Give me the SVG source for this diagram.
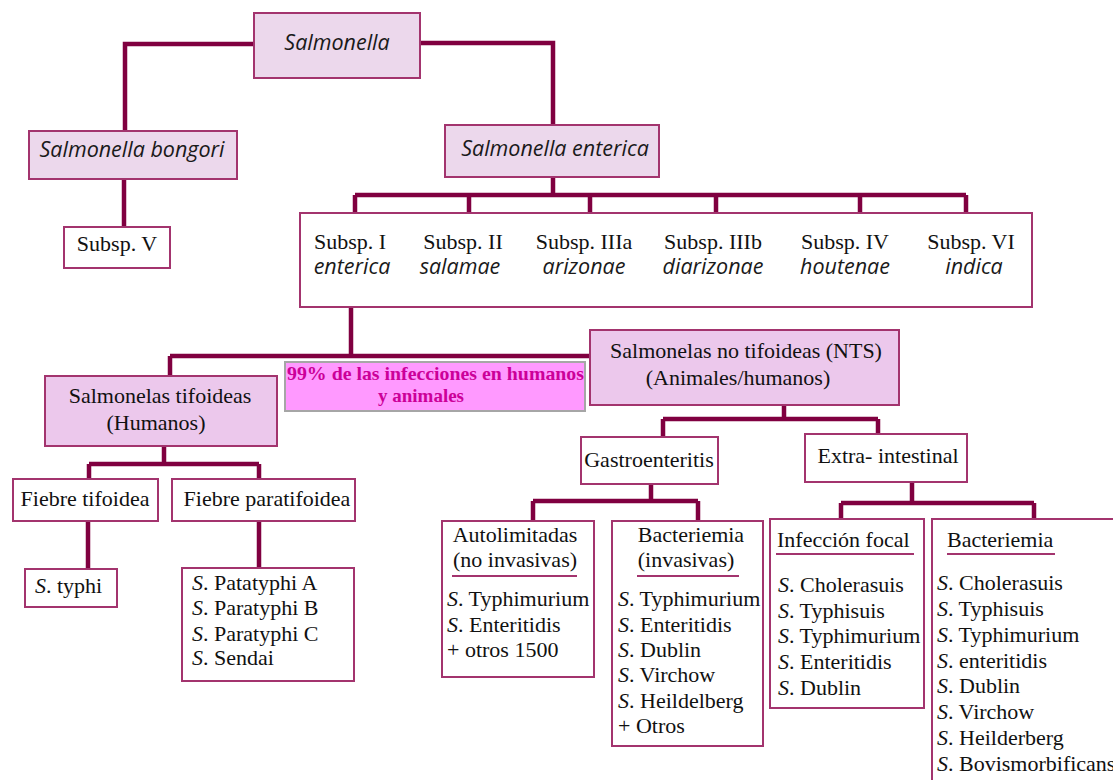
<svg xmlns="http://www.w3.org/2000/svg" width="1113" height="780" viewBox="0 0 1113 780">
<style>
.box{stroke:#a3346e;stroke-width:2}
.w{fill:#ffffff}
.p1{fill:#ecd8ec}
.p2{fill:#ecc8ec}
.hi{fill:#ff99ff;stroke:#a6a6a6;stroke-width:2}
.con{fill:none;stroke:#800040;stroke-width:4.5}
.ul{stroke:#a3346e;stroke-width:2}
.it{font-family:"Open Sans","DejaVu Sans",sans-serif;font-style:italic;font-size:21.5px;fill:#1a1a1a}
.t{font-family:"Liberation Serif","Times New Roman",serif;font-size:22px;fill:#111}
.m{text-anchor:middle}
.s{font-style:italic}
.hl{font-family:"Liberation Serif","Times New Roman",serif;font-size:19px;font-weight:bold;fill:#cc0099}
</style>
<g id="connectors">
<path class="con" d="M254 44 H125 V131"/>
<path class="con" d="M420 43 H553 V125"/>
<path class="con" d="M124 179 V227"/>
<path class="con" d="M553 177 V195 M355 195 H966 M355 195 V213 M469 195 V213 M590 195 V213 M716 195 V213 M860 195 V213 M966 195 V213"/>
<path class="con" d="M309 286 H392 M351 286 V356 M170 356 H590 M170 356 V376"/>
<path class="con" d="M164 446 V464 M89 464 H259 M89 464 V479 M259 464 V479"/>
<path class="con" d="M88 521 V569 M259 521 V568"/>
<path class="con" d="M784 405 V419 M663 419 H878 M663 419 V437 M878 419 V434"/>
<path class="con" d="M651 484 V501 M533 501 H698 M533 501 V521 M698 501 V521"/>
<path class="con" d="M912 482 V503 M841 503 H1034 M841 503 V519 M1034 503 V519"/>
</g>
<g id="salmonella">
<rect class="box p1" x="254" y="13" width="166" height="65"/>
<text class="it m" x="337" y="50">Salmonella</text>
</g>
<g id="bongori">
<rect class="box p1" x="29" y="131" width="208" height="48"/>
<text class="it m" x="132" y="157">Salmonella bongori</text>
</g>
<g id="subspV">
<rect class="box w" x="64" y="227" width="106" height="41"/>
<text class="t m" x="117" y="251">Subsp. V</text>
</g>
<g id="enterica">
<rect class="box p1" x="445" y="125" width="214" height="52"/>
<text class="it m" x="555" y="156">Salmonella enterica</text>
</g>
<g id="subspecies">
<rect class="box w" x="300" y="213" width="732" height="94"/>
<text class="t m" x="350" y="249">Subsp. I</text>
<text class="it m" x="352" y="274">enterica</text>
<text class="t m" x="463" y="249">Subsp. II</text>
<text class="it m" x="460" y="274">salamae</text>
<text class="t m" x="584" y="249">Subsp. IIIa</text>
<text class="it m" x="584" y="274">arizonae</text>
<text class="t m" x="713" y="249">Subsp. IIIb</text>
<text class="it m" x="713" y="274">diarizonae</text>
<text class="t m" x="845" y="249">Subsp. IV</text>
<text class="it m" x="845" y="274">houtenae</text>
<text class="t m" x="971" y="249">Subsp. VI</text>
<text class="it m" x="974" y="274">indica</text>
</g>
<g id="note99">
<rect class="hi" x="285" y="362" width="300" height="49"/>
<text class="hl" x="287" y="380" textLength="297" lengthAdjust="spacingAndGlyphs">99% de las infecciones en humanos</text>
<text class="hl m" x="421" y="402">y animales</text>
</g>
<g id="tifoideas">
<rect class="box p2" x="45" y="376" width="232" height="70"/>
<text class="t m" x="160" y="403">Salmonelas tifoideas</text>
<text class="t m" x="156" y="430">(Humanos)</text>
</g>
<g id="nts">
<rect class="box p2" x="590" y="330" width="309" height="75"/>
<text class="t m" x="746" y="358">Salmonelas no tifoideas (NTS)</text>
<text class="t m" x="738" y="385">(Animales/humanos)</text>
</g>
<g id="fiebreTifoidea">
<rect class="box w" x="13" y="479" width="145" height="42"/>
<text class="t m" x="85" y="506">Fiebre tifoidea</text>
</g>
<g id="fiebreParatifoidea">
<rect class="box w" x="172" y="479" width="183" height="42"/>
<text class="t m" x="267" y="506">Fiebre paratifoidea</text>
</g>
<g id="typhi">
<rect class="box w" x="25" y="569" width="92" height="38"/>
<text class="t" x="35" y="593"><tspan class="s">S</tspan>. typhi</text>
</g>
<g id="paratyphi">
<rect class="box w" x="182" y="568" width="172" height="113"/>
<text class="t" x="192" y="590"><tspan class="s">S</tspan>. Patatyphi A</text>
<text class="t" x="192" y="615"><tspan class="s">S</tspan>. Paratyphi B</text>
<text class="t" x="192" y="641"><tspan class="s">S</tspan>. Paratyphi C</text>
<text class="t" x="192" y="665"><tspan class="s">S</tspan>. Sendai</text>
</g>
<g id="gastro">
<rect class="box w" x="581" y="437" width="137" height="47"/>
<text class="t m" x="649" y="467">Gastroenteritis</text>
</g>
<g id="extra">
<rect class="box w" x="805" y="434" width="162" height="48"/>
<text class="t m" x="888" y="463">Extra- intestinal</text>
</g>
<g id="autolimitadas">
<rect class="box w" x="442" y="521" width="152" height="156"/>
<text class="t m" x="515" y="542">Autolimitadas</text>
<text class="t m" x="515" y="567">(no invasivas)</text>
<line class="ul" x1="452" y1="576" x2="577" y2="576"/>
<text class="t" x="447" y="606"><tspan class="s">S</tspan>. Typhimurium</text>
<text class="t" x="447" y="632"><tspan class="s">S</tspan>. Enteritidis</text>
<text class="t" x="447" y="657">+ otros 1500</text>
</g>
<g id="bacteriemia1">
<rect class="box w" x="612" y="521" width="151" height="225"/>
<text class="t m" x="691" y="542">Bacteriemia</text>
<text class="t m" x="686" y="567">(invasivas)</text>
<line class="ul" x1="637" y1="576" x2="739" y2="576"/>
<text class="t" x="618" y="606"><tspan class="s">S</tspan>. Typhimurium</text>
<text class="t" x="618" y="632"><tspan class="s">S</tspan>. Enteritidis</text>
<text class="t" x="618" y="657"><tspan class="s">S</tspan>. Dublin</text>
<text class="t" x="618" y="682"><tspan class="s">S</tspan>. Virchow</text>
<text class="t" x="618" y="708"><tspan class="s">S</tspan>. Heildelberg</text>
<text class="t" x="618" y="733">+ Otros</text>
</g>
<g id="focal">
<rect class="box w" x="770" y="519" width="154" height="189"/>
<text class="t" x="777" y="547">Infección focal</text>
<line class="ul" x1="776" y1="554" x2="914" y2="554"/>
<text class="t" x="778" y="592"><tspan class="s">S</tspan>. Cholerasuis</text>
<text class="t" x="778" y="618"><tspan class="s">S</tspan>. Typhisuis</text>
<text class="t" x="778" y="643"><tspan class="s">S</tspan>. Typhimurium</text>
<text class="t" x="778" y="669"><tspan class="s">S</tspan>. Enteritidis</text>
<text class="t" x="778" y="695"><tspan class="s">S</tspan>. Dublin</text>
</g>
<g id="bacteriemia2">
<rect class="box w" x="932" y="519" width="200" height="300"/>
<text class="t" x="947" y="547">Bacteriemia</text>
<line class="ul" x1="947" y1="554" x2="1055" y2="554"/>
<text class="t" x="937" y="590"><tspan class="s">S</tspan>. Cholerasuis</text>
<text class="t" x="937" y="616"><tspan class="s">S</tspan>. Typhisuis</text>
<text class="t" x="937" y="642"><tspan class="s">S</tspan>. Typhimurium</text>
<text class="t" x="937" y="668"><tspan class="s">S</tspan>. enteritidis</text>
<text class="t" x="937" y="693"><tspan class="s">S</tspan>. Dublin</text>
<text class="t" x="937" y="719"><tspan class="s">S</tspan>. Virchow</text>
<text class="t" x="937" y="745"><tspan class="s">S</tspan>. Heilderberg</text>
<text class="t" x="937" y="771"><tspan class="s">S</tspan>. Bovismorbificans</text>
</g>
</svg>
